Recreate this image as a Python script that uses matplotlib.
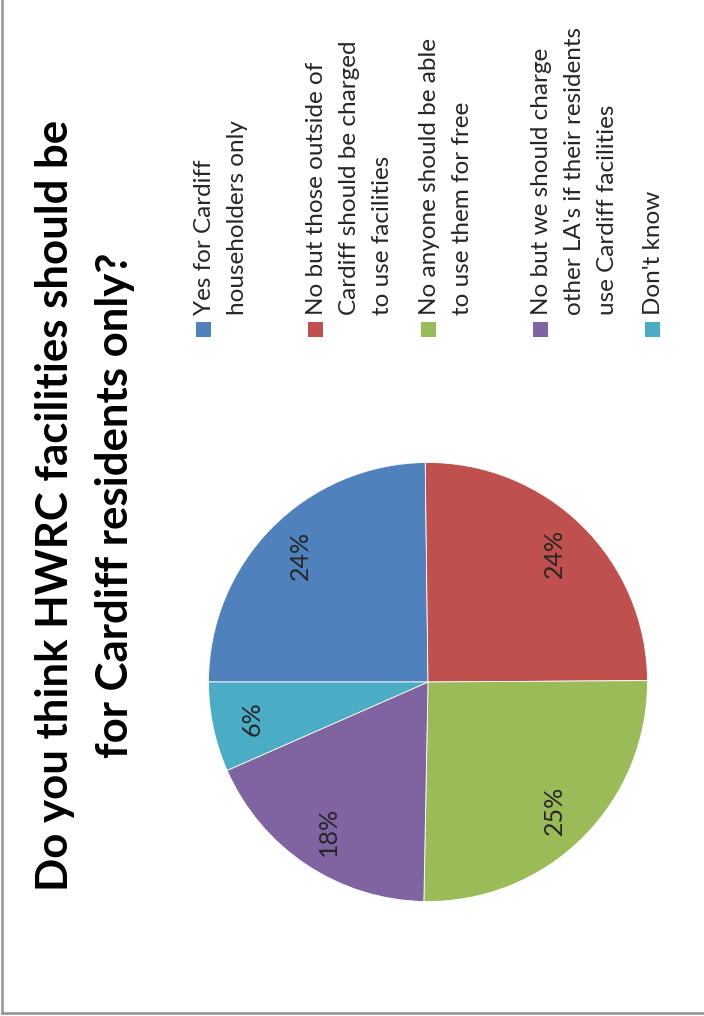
import numpy as np
import matplotlib
matplotlib.use("Agg")
import matplotlib.pyplot as plt
from matplotlib.lines import Line2D

# data (slice sizes estimated from the angles)
categories = ["Yes for Cardiff\nhouseholders only",
              "No but those outside of\nCardiff should be charged\nto use facilities",
              "No anyone should be able\nto use them for free",
              "No but we should charge\nother LA's if their residents\nuse Cardiff facilities",
              "Don't know"]
shares = [24.8, 25.1, 25.4, 18.1, 6.6]
pct_labels = ["24%", "24%", "25%", "18%", "6%"]
colors = ["#4F81BD", "#C0504D", "#9BBB59", "#8064A2", "#4BACC6"]
title_lines = ["Do you think HWRC facilities should be",
               "for Cardiff residents only?"]

W, H = 704, 1016
FONT = "Lato"

fig = plt.figure(figsize=(W / 100, H / 100), dpi=100)
ax = fig.add_axes([0, 0, 1, 1])

def Y(y):  # picture y (from top) -> data y
    return H - y

# pie, rotated a quarter turn like the picture
cx, cy, r = 428, 682, 219.5
wedges, _ = ax.pie(shares, colors=colors, startangle=180, counterclock=False,
                   center=(cx, Y(cy)), radius=r,
                   wedgeprops=dict(edgecolor="white", linewidth=0.6))
for w, lab in zip(wedges, pct_labels):
    mid = np.deg2rad((w.theta1 + w.theta2) / 2)
    ax.text(cx + 0.82 * r * np.cos(mid), Y(cy) + 0.82 * r * np.sin(mid), lab,
            rotation=90, rotation_mode="anchor", ha="center", va="center",
            fontsize=18, color="#262626", family=FONT)

ax.set_xlim(0, W)
ax.set_ylim(0, H)
ax.set_aspect("auto")
ax.axis("off")

# title
for i, t in enumerate(title_lines):
    ax.text(68 + 60 * i, Y(505), t, rotation=90, rotation_mode="anchor",
            ha="center", va="baseline", fontsize=31.5, fontweight="bold",
            color="black", family=FONT)

# legend
step = 112.3
for k, (lab, c) in enumerate(zip(categories, colors)):
    base = 211 + step * k
    ax.add_patch(plt.Rectangle((base - 15, Y(337)), 15, 15, color=c, lw=0))
    for j, line in enumerate(lab.split("\n")):
        ax.text(base + 33 * j, Y(315), line, rotation=90, rotation_mode="anchor",
                ha="left", va="baseline", fontsize=17.5, color="#262626", family=FONT)

# chart frame (left and bottom edges visible)
fig.add_artist(Line2D([2 / W, 2 / W], [Y(0) / H, Y(1013) / H], color="#9a9a9a", lw=2))
fig.add_artist(Line2D([2 / W, 1], [Y(1013) / H, Y(1013) / H], color="#9a9a9a", lw=2))

fig.savefig("out.png", dpi=100, facecolor="white")
